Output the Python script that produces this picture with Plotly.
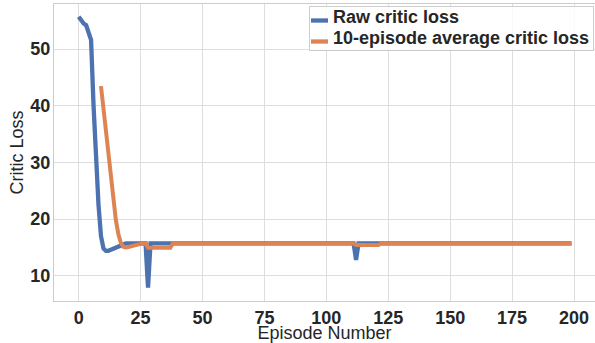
import plotly.graph_objects as go

# ---------------- data ----------------
episodes = list(range(200))

raw_loss = [
    55.7, 55.0, 54.5, 54.2, 53.0, 51.6, 40.0, 31.0, 22.5, 17.0, 14.8, 14.4, 14.4, 14.6, 14.8, 15.0, 15.2, 15.4, 15.6, 15.7,
    15.7, 15.7, 15.7, 15.7, 15.7, 15.7, 15.7, 15.7, 7.9, 15.7, 15.7, 15.7, 15.7, 15.7, 15.7, 15.7, 15.7, 15.7, 15.7, 15.7,
    15.7, 15.7, 15.7, 15.7, 15.7, 15.7, 15.7, 15.7, 15.7, 15.7, 15.7, 15.7, 15.7, 15.7, 15.7, 15.7, 15.7, 15.7, 15.7, 15.7,
    15.7, 15.7, 15.7, 15.7, 15.7, 15.7, 15.7, 15.7, 15.7, 15.7, 15.7, 15.7, 15.7, 15.7, 15.7, 15.7, 15.7, 15.7, 15.7, 15.7,
    15.7, 15.7, 15.7, 15.7, 15.7, 15.7, 15.7, 15.7, 15.7, 15.7, 15.7, 15.7, 15.7, 15.7, 15.7, 15.7, 15.7, 15.7, 15.7, 15.7,
    15.7, 15.7, 15.7, 15.7, 15.7, 15.7, 15.7, 15.7, 15.7, 15.7, 15.7, 15.7, 12.8, 15.7, 15.7, 15.7, 15.7, 15.7, 15.7, 15.7,
    15.7, 15.7, 15.7, 15.7, 15.7, 15.7, 15.7, 15.7, 15.7, 15.7, 15.7, 15.7, 15.7, 15.7, 15.7, 15.7, 15.7, 15.7, 15.7, 15.7,
    15.7, 15.7, 15.7, 15.7, 15.7, 15.7, 15.7, 15.7, 15.7, 15.7, 15.7, 15.7, 15.7, 15.7, 15.7, 15.7, 15.7, 15.7, 15.7, 15.7,
    15.7, 15.7, 15.7, 15.7, 15.7, 15.7, 15.7, 15.7, 15.7, 15.7, 15.7, 15.7, 15.7, 15.7, 15.7, 15.7, 15.7, 15.7, 15.7, 15.7,
    15.7, 15.7, 15.7, 15.7, 15.7, 15.7, 15.7, 15.7, 15.7, 15.7, 15.7, 15.7, 15.7, 15.7, 15.7, 15.7, 15.7, 15.7, 15.7, 15.7,
]

avg_episodes = episodes[9:]

avg_loss = [
    43.45, 39.36, 35.30, 31.29, 27.33, 23.51, 19.85, 17.37, 15.81, 15.12, 14.99,
    15.08, 15.21, 15.34, 15.45, 15.54, 15.61, 15.66, 15.69, 14.92, 14.92, 14.92, 14.92, 14.92, 14.92, 14.92, 14.92, 14.92, 14.92, 15.70, 15.70,
    15.70, 15.70, 15.70, 15.70, 15.70, 15.70, 15.70, 15.70, 15.70, 15.70, 15.70, 15.70, 15.70, 15.70, 15.70, 15.70, 15.70, 15.70, 15.70, 15.70,
    15.70, 15.70, 15.70, 15.70, 15.70, 15.70, 15.70, 15.70, 15.70, 15.70, 15.70, 15.70, 15.70, 15.70, 15.70, 15.70, 15.70, 15.70, 15.70, 15.70,
    15.70, 15.70, 15.70, 15.70, 15.70, 15.70, 15.70, 15.70, 15.70, 15.70, 15.70, 15.70, 15.70, 15.70, 15.70, 15.70, 15.70, 15.70, 15.70, 15.70,
    15.70, 15.70, 15.70, 15.70, 15.70, 15.70, 15.70, 15.70, 15.70, 15.70, 15.70, 15.70, 15.41, 15.41, 15.41, 15.41, 15.41, 15.41, 15.41, 15.41,
    15.41, 15.41, 15.70, 15.70, 15.70, 15.70, 15.70, 15.70, 15.70, 15.70, 15.70, 15.70, 15.70, 15.70, 15.70, 15.70, 15.70, 15.70, 15.70, 15.70,
    15.70, 15.70, 15.70, 15.70, 15.70, 15.70, 15.70, 15.70, 15.70, 15.70, 15.70, 15.70, 15.70, 15.70, 15.70, 15.70, 15.70, 15.70, 15.70, 15.70,
    15.70, 15.70, 15.70, 15.70, 15.70, 15.70, 15.70, 15.70, 15.70, 15.70, 15.70, 15.70, 15.70, 15.70, 15.70, 15.70, 15.70, 15.70, 15.70, 15.70,
    15.70, 15.70, 15.70, 15.70, 15.70, 15.70, 15.70, 15.70, 15.70, 15.70, 15.70, 15.70, 15.70, 15.70, 15.70, 15.70, 15.70, 15.70, 15.70, 15.70,
]

x_ticks = [0, 25, 50, 75, 100, 125, 150, 175, 200]
y_ticks = [10, 20, 30, 40, 50]

series_names = ["Raw critic loss", "10-episode average critic loss"]
x_title = "Episode Number"
y_title = "Critic Loss"

# ---------------- styling ----------------
BLUE = "#4C72B0"
ORANGE = "#DD8452"
TEXT = "#262626"
GRID = "#dedede"
SPINE = "#cccccc"
FAMILY = "Liberation Sans, Arial, sans-serif"
COLORS = [BLUE, ORANGE]

W, H = 595, 343
ML, MR, MT, MB = 54, 0, 4, 42
PW, PH = W - ML - MR, H - MT - MB


def px_x(p):
    return (p - ML) / PW


def px_y(p):
    return 1 - (p - MT) / PH


fig = go.Figure()
fig.add_trace(go.Scatter(
    x=episodes, y=raw_loss, mode="lines", name=series_names[0],
    line=dict(color=BLUE, width=4.3), showlegend=False,
))
fig.add_trace(go.Scatter(
    x=avg_episodes, y=avg_loss, mode="lines", name=series_names[1],
    line=dict(color=ORANGE, width=4.0), showlegend=False,
))

axis_common = dict(
    showgrid=True, gridcolor=GRID, gridwidth=1,
    showline=True, linecolor=SPINE, linewidth=1, mirror=True,
    zeroline=False, ticks="", automargin=False,
    tickfont=dict(family=FAMILY, size=18, color=TEXT, weight="bold"),
)

# legend drawn as a framed box (matplotlib-style: short handles, tight box)
shapes = [dict(
    type="rect", xref="paper", yref="paper", layer="above",
    x0=px_x(309.5), x1=px_x(593.5), y0=px_y(50.5), y1=px_y(6.5),
    fillcolor="rgba(255,255,255,0.8)", line=dict(color=SPINE, width=1),
)]
annotations = []
row_handle_y = [20.5, 41.5]
row_text_y = [17.5, 38.5]
for name, color, hy, ty in zip(series_names, COLORS, row_handle_y, row_text_y):
    shapes.append(dict(
        type="line", xref="paper", yref="paper", layer="above",
        x0=px_x(311), x1=px_x(328), y0=px_y(hy), y1=px_y(hy),
        line=dict(color=color, width=4.3),
    ))
    annotations.append(dict(
        text=name, xref="paper", yref="paper", x=px_x(331), y=px_y(ty),
        xanchor="left", yanchor="middle", showarrow=False,
        font=dict(family=FAMILY, size=18, color=TEXT, weight="bold"),
    ))

fig.update_layout(
    width=W, height=H,
    margin=dict(l=ML, r=MR, t=MT, b=MB),
    paper_bgcolor="white", plot_bgcolor="white",
    font=dict(family=FAMILY, color=TEXT),
    showlegend=False,
    xaxis=dict(
        range=[-9.97, 208.48], tickvals=x_ticks,
        title=dict(text=x_title, font=dict(family=FAMILY, size=18, color=TEXT), standoff=2),
        ticklabelstandoff=0,
        **axis_common,
    ),
    yaxis=dict(
        range=[5.54, 57.94], tickvals=y_ticks,
        title=dict(text=y_title, font=dict(family=FAMILY, size=18, color=TEXT), standoff=2),
        ticklabelstandoff=-1,
        **axis_common,
    ),
    shapes=shapes,
    annotations=annotations,
)

fig.write_html(
    "out.html",
    config={"displayModeBar": False, "staticPlot": True},
    post_script="document.body.style.margin='0';document.body.style.padding='0';",
)
